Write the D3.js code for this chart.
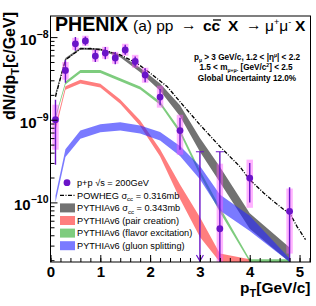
<!DOCTYPE html>
<html>
<head>
<meta charset="utf-8">
<script src="https://cdn.jsdelivr.net/npm/d3@7"></script>
<style>
body { margin: 0; background: #fff; }
text { font-family: "Liberation Sans", Arial, sans-serif; fill: #000; }
</style>
</head>
<body>
<script>
// PHENIX data points (pT, yield, stat and syst errors)
var ptX    = [0.1, 0.3, 0.5, 0.7, 0.9, 1.1, 1.3, 1.5, 1.7, 1.9, 2.2, 2.6, 3.0, 3.4, 4.0, 4.8];
var ptY    = [1.0e-9, 3.95e-9, 8.3e-9, 9.0e-9, 5.9e-9, 6.4e-9, 5.6e-9, 7.0e-9, 5.07e-9, 3.47e-9, 1.88e-9, 7.4e-10, 1.0e-12, 4.8e-11, 1.97e-10, 7.8e-11];
var statHi = [1.75e-9, 5.3e-9, 1.0e-8, 1.02e-8, 7.0e-9, 7.57e-9, 6.6e-9, 8.07e-9, 5.83e-9, 4.2e-9, 2.35e-9, 1.06e-9, 4.1e-10, 4.1e-10, 3.0e-10, 1.53e-10];
var statLo = [2.86e-10, 2.8e-9, 6.83e-9, 7.9e-9, 5.0e-9, 5.4e-9, 4.7e-9, 6.1e-9, 4.4e-9, 2.85e-9, 1.5e-9, 4.34e-10, 1.0e-12, 1.0e-12, 1.0e-10, 1.0e-12];
var sysHi  = [1.52e-9, 5.0e-9, 9.8e-9, 1.04e-8, 7.02e-9, 7.63e-9, 6.64e-9, 8.3e-9, 6.1e-9, 4.26e-9, 2.58e-9, 1.15e-9, null, 2.94e-10, 3.29e-10, 1.47e-10];
var sysLo  = [4.34e-10, 3.05e-9, 7.0e-9, 7.85e-9, 5.03e-9, 5.46e-9, 4.75e-9, 5.94e-9, 4.26e-9, 2.8e-9, 1.4e-9, 3.77e-10, null, 1.0e-12, 8.6e-11, 2.4e-11];
var arrowX = [3.0];
var capX = [3.0, 3.4];

// POWHEG curve
var pwX = [0.1, 0.3, 0.6, 0.8, 1.05, 1.4, 1.73, 2.0, 2.34, 2.6, 3.0, 3.4, 3.8, 4.0, 4.28, 4.52, 4.82, 4.95, 5.12];
var pwY = [1.9e-9, 5.3e-9, 7.2e-9, 7.3e-9, 7.0e-9, 6.1e-9, 4.85e-9, 3.67e-9, 2.53e-9, 1.65e-9, 8.7e-10, 4.75e-10, 2.72e-10, 1.88e-10, 1.3e-10, 9.8e-11, 7.1e-11, 5.1e-11, 3.54e-11];

// PYTHIA bands
var pyX = [0.1, 0.3, 0.6, 1.0, 1.4, 1.8, 2.2, 2.6, 3.0, 3.4, 4.0, 4.8];
var grayHi  = [2.1e-9, 5.6e-9, 7.5e-9, 7.3e-9, 6.1e-9, 4.25e-9, 2.75e-9, 1.5e-9, 6.0e-10, 2.7e-10, 7.4e-11, 2.85e-11];
var grayLo  = [1.9e-9, 5.2e-9, 7.1e-9, 6.9e-9, 5.7e-9, 3.75e-9, 2.25e-9, 1.1e-9, 4.1e-10, 1.75e-10, 4.8e-11, 1.9e-11];
var redX    = [0.1, 0.3, 0.6, 1.0, 1.4, 1.8, 2.2, 2.6, 3.0, 3.4, 4.0];
var redHi   = [8.4e-10, 2.55e-9, 3.05e-9, 2.72e-9, 1.76e-9, 9.8e-10, 4.4e-10, 1.65e-10, 6.6e-11, 2.4e-11, 2.05e-11];
var redLo   = [7.4e-10, 2.3e-9, 2.75e-9, 2.45e-9, 1.56e-9, 8.4e-10, 3.6e-10, 1.1e-10, 3.8e-11, 1.9e-11, 1.9e-11];
var greenHi = [1.1e-9, 2.9e-9, 4.0e-9, 4.0e-9, 3.17e-9, 2.52e-9, 1.66e-9, 7.6e-10, 2.45e-10, 8.8e-11, 2.05e-11, 2.05e-11];
var greenLo = [1.02e-9, 2.67e-9, 3.68e-9, 3.68e-9, 2.93e-9, 2.32e-9, 1.52e-9, 6.8e-10, 2.15e-10, 7.6e-11, 1.9e-11, 1.9e-11];
var blueHi  = [1.2e-10, 4.4e-10, 7.4e-10, 8.85e-10, 9.3e-10, 8.5e-10, 7.1e-10, 4.8e-10, 2.75e-10, 1.25e-10, 6.9e-11, 2.1e-11];
var blueLo  = [1.0e-10, 3.55e-10, 5.9e-10, 7.05e-10, 7.4e-10, 6.8e-10, 5.6e-10, 3.65e-10, 1.9e-10, 8.0e-11, 4.5e-11, 1.9e-11];

// axis ticks
var xTicks = [0, 1, 2, 3, 4, 5];
var yMajor = [1e-10, 1e-9, 1e-8];
var yExp = ["\u221210", "\u22129", "\u22128"];

var legendLabels = ["p+p", "POWHEG", "PYTHIAv6", "PYTHIAv6 (pair creation)", "PYTHIAv6 (flavor excitation)", "PYTHIAv6 (gluon splitting)"];

// plot parameters
var w = 316, h = 306;
var pl = 50.5, pr = 310.5, pt = 16, pb = 262;
var purple = "#6a14c8";

var x = d3.scaleLinear().domain([0, 5.22]).range([pl, pr]);
var y = d3.scaleLog().domain([1.9e-11, 1.8e-8]).range([pb, pt]).clamp(true);

var svg = d3.select("body").append("svg")
  .attr("width", w).attr("height", h);

svg.append("rect").attr("width", w).attr("height", h).attr("fill", "#fff");

svg.append("clipPath").attr("id", "clip")
  .append("rect").attr("x", pl).attr("y", pt).attr("width", pr - pl).attr("height", pb - pt);

var plot = svg.append("g").attr("clip-path", "url(#clip)");

function band(xs, lo, hi, color, op) {
  var data = xs.map(function(d, i) { return [d, lo[i], hi[i]]; });
  var area = d3.area()
    .x(function(d) { return x(d[0]); })
    .y0(function(d) { return y(d[1]); })
    .y1(function(d) { return y(d[2]); });
  plot.append("path").datum(data)
    .attr("d", area)
    .attr("fill", color)
    .attr("fill-opacity", op);
}

band(pyX, grayLo, grayHi, "#3c3c3c", 0.72);
band(redX, redLo, redHi, "#ff2828", 0.6);
band(pyX, greenLo, greenHi, "#28aa28", 0.6);
band(pyX, blueLo, blueHi, "#2828ff", 0.62);

// POWHEG
var line = d3.line()
  .x(function(d, i) { return x(pwX[i]); })
  .y(function(d) { return y(d); });
plot.append("path").datum(pwY)
  .attr("d", line)
  .attr("fill", "none")
  .attr("stroke", "#000")
  .attr("stroke-width", 1.3)
  .attr("stroke-dasharray", "4,1.5,1,1.5");

// systematic boxes
plot.selectAll("rect.sys")
  .data(ptX.filter(function(d, i) { return sysHi[i] != null; }))
  .enter().append("rect")
  .attr("class", "sys")
  .attr("x", function(d) { return x(d - 0.065); })
  .attr("width", function(d) { return x(d + 0.065) - x(d - 0.065); })
  .attr("y", function(d) { return y(sysHi[ptX.indexOf(d)]); })
  .attr("height", function(d) { var i = ptX.indexOf(d); return y(sysLo[i]) - y(sysHi[i]); })
  .attr("fill", "#ff55ff")
  .attr("fill-opacity", 0.45);

// stat bars
plot.selectAll("line.stat")
  .data(ptX)
  .enter().append("line")
  .attr("class", "stat")
  .attr("x1", function(d) { return x(d); })
  .attr("x2", function(d) { return x(d); })
  .attr("y1", function(d, i) { return y(statHi[i]); })
  .attr("y2", function(d, i) { return y(statLo[i]); })
  .attr("stroke", purple)
  .attr("stroke-width", 1.4);

plot.selectAll("line.cap")
  .data(capX)
  .enter().append("line")
  .attr("x1", function(d) { return x(d) - 4; })
  .attr("x2", function(d) { return x(d) + 4; })
  .attr("y1", function(d) { return y(statHi[ptX.indexOf(d)]); })
  .attr("y2", function(d) { return y(statHi[ptX.indexOf(d)]); })
  .attr("stroke", purple)
  .attr("stroke-width", 1.2);

plot.selectAll("path.arrow")
  .data(arrowX)
  .enter().append("path")
  .attr("d", function(d) { return "M" + (x(d) - 3.5) + "," + (pb - 7) + "L" + x(d) + "," + (pb - 1) + "L" + (x(d) + 3.5) + "," + (pb - 7); })
  .attr("fill", "none")
  .attr("stroke", purple)
  .attr("stroke-width", 1.2);

plot.selectAll("circle.pt")
  .data(ptX)
  .enter().append("circle")
  .attr("cx", function(d) { return x(d); })
  .attr("cy", function(d, i) { return y.copy().clamp(false)(ptY[i]); })
  .attr("r", 3.4)
  .attr("fill", purple);

// axes
var xAxis = d3.axisBottom(x).tickValues(xTicks).tickSize(-7).tickSizeOuter(0).tickPadding(4).tickFormat(d3.format("d"));
var xMinor = d3.axisBottom(x).tickValues(d3.range(0, 5.21, 0.2)).tickSize(-4).tickSizeOuter(0).tickFormat("");
var gx = svg.append("g").attr("transform", "translate(0," + pb + ")").call(xAxis);
svg.append("g").attr("transform", "translate(0," + pb + ")").call(xMinor).select(".domain").remove();
gx.select(".domain").remove();
gx.selectAll("text").attr("font-size", "15px").attr("font-weight", "bold")
  .attr("font-family", "Liberation Sans, Arial, sans-serif").attr("fill", "#000");

var yMinorVals = [];
[1e-11, 1e-10, 1e-9, 1e-8].forEach(function(dec) {
  for (var k = 2; k <= 9; k++) {
    var v = k * dec;
    if (v > 1.9e-11 && v < 1.8e-8) yMinorVals.push(v);
  }
});
var gy = svg.append("g").attr("transform", "translate(" + pl + ",0)")
  .call(d3.axisLeft(y).tickValues(yMajor).tickSize(-7).tickSizeOuter(0).tickFormat(""));
gy.select(".domain").remove();
svg.append("g").attr("transform", "translate(" + pl + ",0)")
  .call(d3.axisLeft(y).tickValues(yMinorVals).tickSize(-4).tickSizeOuter(0).tickFormat(""))
  .select(".domain").remove();

svg.append("rect")
  .attr("x", pl).attr("y", pt).attr("width", pr - pl).attr("height", pb - pt)
  .attr("fill", "none").attr("stroke", "#000").attr("stroke-width", 1);

var yl = svg.selectAll("text.ylab")
  .data(yMajor)
  .enter().append("text")
  .attr("class", "ylab")
  .attr("x", pl - 2)
  .attr("y", function(d) { return y(d) + 8; })
  .attr("text-anchor", "end")
  .attr("font-size", "15px")
  .attr("font-weight", "bold");
yl.append("tspan").text("10");
yl.append("tspan").attr("dy", -7).attr("font-size", "10.5px").text(function(d, i) { return yExp[i]; });

// axis titles
var xt = svg.append("text").attr("x", pr).attr("y", 292.5)
  .attr("text-anchor", "end").attr("font-size", "15.5px").attr("font-weight", "bold");
xt.append("tspan").text("p");
xt.append("tspan").attr("dy", 4).attr("font-size", "11px").text("T");
xt.append("tspan").attr("dy", -4).text("[GeV/c]");

var ytl = svg.append("text").attr("transform", "translate(15,12) rotate(-90)")
  .attr("text-anchor", "end").attr("font-size", "16px").attr("font-weight", "bold");
ytl.append("tspan").text("dN/dp");
ytl.append("tspan").attr("dy", 4).attr("font-size", "11px").text("T");
ytl.append("tspan").attr("dy", -4).text("[c/GeV]");

// title
svg.append("text").attr("x", 55).attr("y", 31).attr("font-size", "19.6px").attr("font-weight", "bold").text("PHENIX");
svg.append("text").attr("x", 133).attr("y", 31).attr("font-size", "15.5px").text("(a) pp");
svg.append("text").attr("x", 181).attr("y", 30).attr("font-size", "15.5px").text("\u2192");
svg.append("text").attr("x", 203).attr("y", 31).attr("font-size", "15.5px").attr("font-weight", "bold").text("cc");
svg.append("line").attr("x1", 213).attr("x2", 221).attr("y1", 20).attr("y2", 20).attr("stroke", "#000").attr("stroke-width", 1.3);
svg.append("text").attr("x", 228).attr("y", 31).attr("font-size", "15.5px").attr("font-weight", "bold").text("X");
svg.append("text").attr("x", 246).attr("y", 30).attr("font-size", "15.5px").text("\u2192");
var mu = svg.append("text").attr("x", 265).attr("y", 31).attr("font-size", "15.5px");
mu.append("tspan").text("\u03bc");
mu.append("tspan").attr("dy", -6).attr("font-size", "9px").text("+");
mu.append("tspan").attr("dy", 6).text("\u03bc");
mu.append("tspan").attr("dy", -6).attr("font-size", "9px").text("-");
svg.append("text").attr("x", 295).attr("y", 31).attr("font-size", "15.5px").attr("font-weight", "bold").text("X");

// kinematic info
var info = svg.append("g").attr("font-weight", "bold").attr("font-size", "8.2px");
var l1 = info.append("text").attr("x", 247).attr("y", 59.5).attr("text-anchor", "middle");
l1.append("tspan").text("p");
l1.append("tspan").attr("dy", 2).attr("font-size", "5px").text("\u03bc");
l1.append("tspan").attr("dy", -2).text(" > 3 GeV/c, 1.2 < |\u03b7");
l1.append("tspan").attr("dy", -3).attr("font-size", "5px").text("\u03bc");
l1.append("tspan").attr("dy", 3).text("| < 2.2");
var l2 = info.append("text").attr("x", 246).attr("y", 70).attr("text-anchor", "middle");
l2.append("tspan").text("1.5 < m");
l2.append("tspan").attr("dy", 2).attr("font-size", "5px").text("\u03bc+\u03bc-");
l2.append("tspan").attr("dy", -2).text(" [GeV/c");
l2.append("tspan").attr("dy", -3).attr("font-size", "5px").text("2");
l2.append("tspan").attr("dy", 3).text("] < 2.5");
info.append("text").attr("x", 247).attr("y", 80.5).attr("text-anchor", "middle").text("Global Uncertainty 12.0%");

// legend
var ly0 = 182.7, ldy = 12.6, lx = 60, ltx = 77;
var lg = svg.append("g").attr("font-size", "9.2px");
lg.append("circle").attr("cx", lx + 7).attr("cy", ly0).attr("r", 3.4).attr("fill", purple);
lg.append("line").attr("x1", lx).attr("x2", lx + 15).attr("y1", ly0 + ldy).attr("y2", ly0 + ldy)
  .attr("stroke", "#000").attr("stroke-width", 1.3).attr("stroke-dasharray", "4,1.5,1,1.5");
var boxColors = [["#3c3c3c", 0.72], ["#ff2828", 0.6], ["#28aa28", 0.6], ["#2828ff", 0.62]];
boxColors.forEach(function(c, i) {
  lg.append("rect").attr("x", lx).attr("y", ly0 + ldy * (i + 2) - 4.5).attr("width", 15).attr("height", 9)
    .attr("fill", c[0]).attr("fill-opacity", c[1]);
});
var t0 = lg.append("text").attr("x", ltx).attr("y", ly0 + 3.3);
t0.append("tspan").text(legendLabels[0] + " ");
t0.append("tspan").text("\u221As = 200GeV");
var t1 = lg.append("text").attr("x", ltx).attr("y", ly0 + ldy + 3.3);
t1.append("tspan").text(legendLabels[1] + " \u03c3");
t1.append("tspan").attr("dy", 2.5).attr("font-size", "6px").text("cc");
t1.append("tspan").attr("dy", -2.5).text(" = 0.316mb");
var t2 = lg.append("text").attr("x", ltx).attr("y", ly0 + 2 * ldy + 3.3);
t2.append("tspan").text(legendLabels[2] + " \u03c3");
t2.append("tspan").attr("dy", 2.5).attr("font-size", "6px").text("cc");
t2.append("tspan").attr("dy", -2.5).text(" = 0.343mb");
for (var k = 3; k < 6; k++) {
  lg.append("text").attr("x", ltx).attr("y", ly0 + k * ldy + 3.3).text(legendLabels[k]);
}
</script>
</body>
</html>
